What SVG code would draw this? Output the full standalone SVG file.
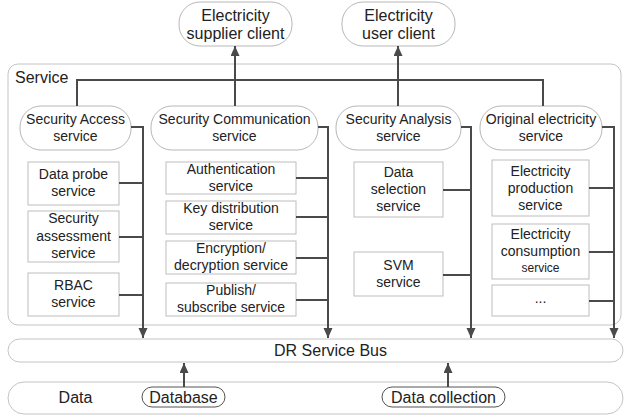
<svg xmlns="http://www.w3.org/2000/svg" width="624" height="417" viewBox="0 0 624 417">
<style>
text{font-family:"Liberation Sans",Arial,sans-serif;fill:#222;text-anchor:middle}
.t14{font-size:14px}
.t16{font-size:16px}
.cont{fill:#fff;stroke:#c4c4c4;stroke-width:1}
.pill{fill:#fff;stroke:#b8b8b8;stroke-width:1}
.box{fill:#fff;stroke:#bdbdbd;stroke-width:1}
.dpill{fill:#fff;stroke:#555;stroke-width:1}
.c{fill:none;stroke:#4a4a4a;stroke-width:2}
.a{marker-end:url(#ah)}
</style>
<defs>
<marker id="ah" markerUnits="userSpaceOnUse" markerWidth="10" markerHeight="10" refX="10" refY="4.5" orient="auto">
<path d="M0,0 L10,4.5 L0,9 z" fill="#4a4a4a"/>
</marker>
</defs>
<rect width="624" height="417" fill="#fff"/>
<g id="service-layer">
<rect class="cont" x="8" y="64" width="613" height="261" rx="10"/>
<text class="t16" x="15" y="83" style="text-anchor:start">Service</text>
</g>
<g id="bus">
<rect class="cont" x="8" y="339" width="615" height="23" rx="11.5"/>
<text class="t16" x="330.5" y="356">DR Service Bus</text>
</g>
<g id="data-layer">
<rect class="cont" x="8" y="382" width="615" height="32" rx="16"/>
<text class="t16" x="75.5" y="403">Data</text>
</g>
<g id="supplier-client">
<rect class="pill" x="179" y="2" width="113" height="44" rx="21"/>
<text class="t16" x="235.5" y="21">Electricity</text>
<text class="t16" x="235.5" y="39">supplier client</text>
</g>
<g id="user-client">
<rect class="pill" x="342" y="2" width="113" height="44" rx="21"/>
<text class="t16" x="398.5" y="21">Electricity</text>
<text class="t16" x="398.5" y="39">user client</text>
</g>
<g id="security-access">
<rect class="pill" x="20" y="106" width="111" height="44" rx="21"/>
<text class="t14" x="75.5" y="124">Security Access</text>
<text class="t14" x="75.5" y="141">service</text>
</g>
<g id="security-communication">
<rect class="pill" x="151" y="106" width="167" height="44" rx="21"/>
<text class="t14" x="234.5" y="124" textLength="152" lengthAdjust="spacingAndGlyphs">Security Communication</text>
<text class="t14" x="234.5" y="141">service</text>
</g>
<g id="security-analysis">
<rect class="pill" x="336" y="106" width="125" height="44" rx="21"/>
<text class="t14" x="398.5" y="124">Security Analysis</text>
<text class="t14" x="398.5" y="141">service</text>
</g>
<g id="original-electricity">
<rect class="pill" x="480" y="106" width="122" height="44" rx="21"/>
<text class="t14" x="541" y="124">Original electricity</text>
<text class="t14" x="541" y="141">service</text>
</g>
<g id="data-probe">
<rect class="box" x="28" y="162" width="91" height="43"/>
<text class="t14" x="73.5" y="179">Data probe</text>
<text class="t14" x="73.5" y="196">service</text>
</g>
<g id="security-assessment">
<rect class="box" x="28" y="211" width="91" height="51"/>
<text class="t14" x="73.5" y="223">Security</text>
<text class="t14" x="73.5" y="240.5">assessment</text>
<text class="t14" x="73.5" y="257.5">service</text>
</g>
<g id="rbac">
<rect class="box" x="28" y="273" width="91" height="43"/>
<text class="t14" x="73.5" y="290">RBAC</text>
<text class="t14" x="73.5" y="307">service</text>
</g>
<g id="authentication">
<rect class="box" x="166" y="162" width="130" height="32"/>
<text class="t14" x="231" y="173.5">Authentication</text>
<text class="t14" x="231" y="190.5">service</text>
</g>
<g id="key-distribution">
<rect class="box" x="166" y="201" width="130" height="33"/>
<text class="t14" x="231" y="213">Key distribution</text>
<text class="t14" x="231" y="230">service</text>
</g>
<g id="encryption">
<rect class="box" x="166" y="241" width="130" height="33"/>
<text class="t14" x="231" y="253">Encryption/</text>
<text class="t14" x="231" y="270" textLength="114" lengthAdjust="spacingAndGlyphs">decryption service</text>
</g>
<g id="publish-subscribe">
<rect class="box" x="166" y="283" width="130" height="33"/>
<text class="t14" x="231" y="295">Publish/</text>
<text class="t14" x="231" y="312">subscribe service</text>
</g>
<g id="data-selection">
<rect class="box" x="354" y="162" width="89" height="55"/>
<text class="t14" x="398.5" y="177">Data</text>
<text class="t14" x="398.5" y="194">selection</text>
<text class="t14" x="398.5" y="211">service</text>
</g>
<g id="svm">
<rect class="box" x="354" y="252" width="89" height="44"/>
<text class="t14" x="398.5" y="270">SVM</text>
<text class="t14" x="398.5" y="287">service</text>
</g>
<g id="electricity-production">
<rect class="box" x="492" y="160" width="97" height="56"/>
<text class="t14" x="540.5" y="176">Electricity</text>
<text class="t14" x="540.5" y="193">production</text>
<text class="t14" x="540.5" y="210">service</text>
</g>
<g id="electricity-consumption">
<rect class="box" x="492" y="224" width="97" height="55"/>
<text class="t14" x="540.5" y="239">Electricity</text>
<text class="t14" x="540.5" y="256">consumption</text>
<text x="540.5" y="272" style="font-size:12px">service</text>
</g>
<g id="more">
<rect class="box" x="492" y="285" width="97" height="31"/>
<text class="t14" x="540.5" y="303">...</text>
</g>
<g id="database">
<rect class="dpill" x="142" y="387" width="83" height="20" rx="10"/>
<text class="t16" x="183.5" y="403">Database</text>
</g>
<g id="data-collection">
<rect class="dpill" x="382" y="387" width="123" height="20" rx="10"/>
<text class="t16" x="443.5" y="403">Data collection</text>
</g>
<g id="connectors">
<path class="c" d="M77,106 V80 H543 V106"/>
<path class="c a" d="M235,106 V46"/>
<path class="c a" d="M398,106 V46"/>
<path class="c a" d="M131,127 H143 V338"/>
<path class="c" d="M119,183 H143 M119,237 H143 M119,295 H143"/>
<path class="c a" d="M318,127 H328 V338"/>
<path class="c" d="M296,178 H328 M296,217 H328 M296,258 H328 M296,300 H328"/>
<path class="c a" d="M461,127 H471 V338"/>
<path class="c" d="M443,190 H471 M443,275 H471"/>
<path class="c a" d="M602,127 H614 V338"/>
<path class="c" d="M589,188 H614 M589,252 H614 M589,301 H614"/>
<path class="c a" d="M184,387 V363"/>
<path class="c a" d="M448,387 V363"/>
</g>
</svg>
